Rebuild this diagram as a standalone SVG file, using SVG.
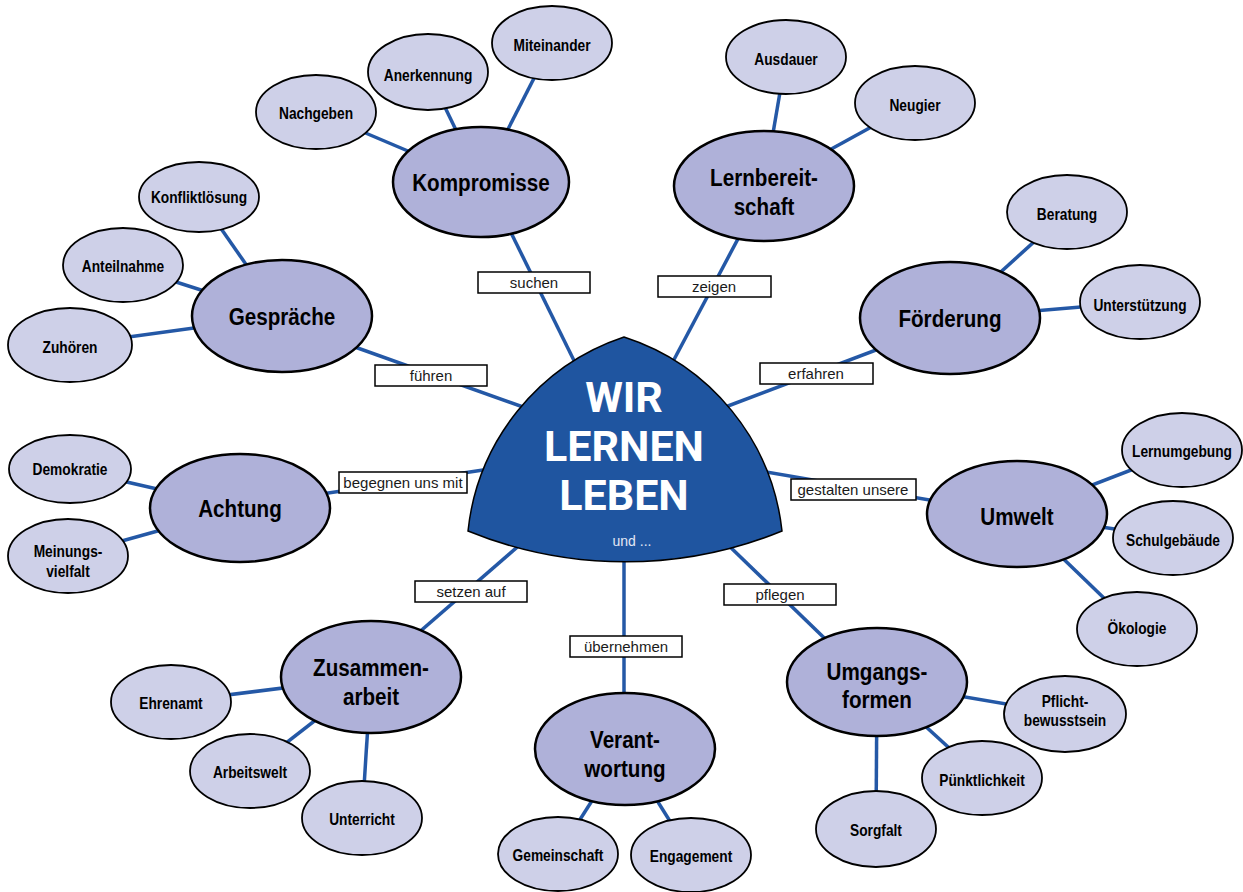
<svg xmlns="http://www.w3.org/2000/svg" width="1243" height="892" viewBox="0 0 1243 892">
<style>
.ln{stroke:#2458a6;stroke-width:3.5;fill:none}
.main ellipse{fill:#afb1d9;stroke:#000;stroke-width:2.5}
.sat ellipse{fill:#ced0e8;stroke:#000;stroke-width:1.8}
.mt,.st{font-family:"Liberation Sans",Arial,sans-serif;font-weight:bold;text-anchor:middle;fill:#000;transform-box:fill-box;transform-origin:center;transform:scaleX(0.86)}
.mt{font-size:24px}
.st{font-size:16px}
.lb rect{fill:#fff;stroke:#000;stroke-width:1.5}
.lt{font-family:"Liberation Sans",Arial,sans-serif;font-size:15px;text-anchor:middle;fill:#1a1a1a}
.ct{font-family:Roboto,"Liberation Sans",sans-serif;font-weight:bold;font-size:43px;text-anchor:middle;fill:#fff}
</style>
<g id="connectors">
<line class="ln" x1="486" y1="182" x2="590" y2="393"/>
<line class="ln" x1="766" y1="186" x2="660" y2="386"/>
<line class="ln" x1="282" y1="321" x2="540" y2="413"/>
<line class="ln" x1="950" y1="322" x2="720" y2="409"/>
<line class="ln" x1="240" y1="506" x2="490" y2="469"/>
<line class="ln" x1="1017" y1="515" x2="760" y2="471"/>
<line class="ln" x1="371" y1="674" x2="530" y2="536"/>
<line class="ln" x1="624" y1="749" x2="624" y2="540"/>
<line class="ln" x1="877" y1="689" x2="725" y2="542"/>
<line class="ln" x1="552" y1="43" x2="481" y2="182"/>
<line class="ln" x1="428" y1="72" x2="481" y2="182"/>
<line class="ln" x1="316" y1="112" x2="481" y2="182"/>
<line class="ln" x1="786" y1="57" x2="764" y2="186"/>
<line class="ln" x1="915" y1="103" x2="764" y2="186"/>
<line class="ln" x1="199" y1="197" x2="282" y2="316"/>
<line class="ln" x1="123" y1="265" x2="282" y2="316"/>
<line class="ln" x1="70" y1="345" x2="282" y2="316"/>
<line class="ln" x1="1067" y1="212" x2="950" y2="318"/>
<line class="ln" x1="1140" y1="302" x2="950" y2="318"/>
<line class="ln" x1="70" y1="469" x2="240" y2="508"/>
<line class="ln" x1="68" y1="556" x2="240" y2="508"/>
<line class="ln" x1="1183" y1="450" x2="1017" y2="514"/>
<line class="ln" x1="1173" y1="538" x2="1017" y2="514"/>
<line class="ln" x1="1137" y1="630" x2="1017" y2="514"/>
<line class="ln" x1="171" y1="702" x2="371" y2="677"/>
<line class="ln" x1="250" y1="771" x2="371" y2="677"/>
<line class="ln" x1="362" y1="818" x2="371" y2="677"/>
<line class="ln" x1="558" y1="854" x2="625" y2="749"/>
<line class="ln" x1="691" y1="855" x2="625" y2="749"/>
<line class="ln" x1="1065" y1="714" x2="877" y2="682"/>
<line class="ln" x1="982" y1="778" x2="877" y2="682"/>
<line class="ln" x1="876" y1="829" x2="877" y2="682"/>
</g>
<g id="center">
<path d="M624 337 A230 230 0 0 0 468 531 A415 415 0 0 0 782 531 A230 230 0 0 0 624 337 Z" fill="#1f55a0" stroke="#000" stroke-width="1.5"/>
<text class="ct" x="624" y="412">WIR</text>
<text class="ct" x="624" y="461">LERNEN</text>
<text class="ct" x="624" y="510">LEBEN</text>
<text x="632" y="546" font-family="Liberation Sans,sans-serif" font-size="14" fill="#e4e8f4" text-anchor="middle">und ...</text>
</g>
<g id="labels">
<g class="lb"><rect x="478" y="272" width="112" height="21"/><text class="lt" x="534" y="288">suchen</text></g>
<g class="lb"><rect x="658" y="276" width="113" height="21"/><text class="lt" x="714" y="292">zeigen</text></g>
<g class="lb"><rect x="375" y="365" width="112" height="21"/><text class="lt" x="431" y="381">führen</text></g>
<g class="lb"><rect x="760" y="363" width="113" height="21"/><text class="lt" x="816" y="379">erfahren</text></g>
<g class="lb"><rect x="339" y="472" width="128" height="21"/><text class="lt" x="403" y="488">begegnen uns mit</text></g>
<g class="lb"><rect x="791" y="479" width="125" height="21"/><text class="lt" x="853" y="495">gestalten unsere</text></g>
<g class="lb"><rect x="415" y="581" width="112" height="21"/><text class="lt" x="471" y="597">setzen auf</text></g>
<g class="lb"><rect x="570" y="636" width="112" height="21"/><text class="lt" x="626" y="652">übernehmen</text></g>
<g class="lb"><rect x="724" y="584" width="112" height="21"/><text class="lt" x="780" y="600">pflegen</text></g>
</g>
<g id="kompromisse" class="main"><ellipse cx="481" cy="182" rx="88" ry="55"/><text class="mt" x="481" y="191">Kompromisse</text></g>
<g id="lernbereitschaft" class="main"><ellipse cx="764" cy="186" rx="90" ry="55"/><text class="mt" x="764" y="186">Lernbereit-</text><text class="mt" x="764" y="215">schaft</text></g>
<g id="gespraeche" class="main"><ellipse cx="282" cy="316" rx="90" ry="56"/><text class="mt" x="282" y="325">Gespräche</text></g>
<g id="foerderung" class="main"><ellipse cx="950" cy="318" rx="90" ry="56"/><text class="mt" x="950" y="327">Förderung</text></g>
<g id="achtung" class="main"><ellipse cx="240" cy="508" rx="90" ry="54"/><text class="mt" x="240" y="517">Achtung</text></g>
<g id="umwelt" class="main"><ellipse cx="1017" cy="514" rx="90" ry="53"/><text class="mt" x="1017" y="525">Umwelt</text></g>
<g id="zusammenarbeit" class="main"><ellipse cx="371" cy="677" rx="90" ry="56"/><text class="mt" x="371" y="676">Zusammen-</text><text class="mt" x="371" y="705">arbeit</text></g>
<g id="verantwortung" class="main"><ellipse cx="625" cy="749" rx="90" ry="56"/><text class="mt" x="625" y="748">Verant-</text><text class="mt" x="625" y="777">wortung</text></g>
<g id="umgangsformen" class="main"><ellipse cx="877" cy="682" rx="90" ry="54"/><text class="mt" x="877" y="680">Umgangs-</text><text class="mt" x="877" y="708">formen</text></g>
<g id="miteinander" class="sat"><ellipse cx="552" cy="43" rx="60" ry="37"/><text class="st" x="552" y="51">Miteinander</text></g>
<g id="anerkennung" class="sat"><ellipse cx="428" cy="72" rx="60" ry="38"/><text class="st" x="428" y="81">Anerkennung</text></g>
<g id="nachgeben" class="sat"><ellipse cx="316" cy="112" rx="60" ry="37"/><text class="st" x="316" y="119">Nachgeben</text></g>
<g id="ausdauer" class="sat"><ellipse cx="786" cy="57" rx="60" ry="37"/><text class="st" x="786" y="65">Ausdauer</text></g>
<g id="neugier" class="sat"><ellipse cx="915" cy="103" rx="60" ry="37"/><text class="st" x="915" y="111">Neugier</text></g>
<g id="konfliktloesung" class="sat"><ellipse cx="199" cy="197" rx="60" ry="35"/><text class="st" x="199" y="203">Konfliktlösung</text></g>
<g id="anteilnahme" class="sat"><ellipse cx="123" cy="265" rx="60" ry="37"/><text class="st" x="123" y="272">Anteilnahme</text></g>
<g id="zuhoeren" class="sat"><ellipse cx="70" cy="345" rx="62" ry="37"/><text class="st" x="70" y="353">Zuhören</text></g>
<g id="beratung" class="sat"><ellipse cx="1067" cy="212" rx="60" ry="37"/><text class="st" x="1067" y="220">Beratung</text></g>
<g id="unterstuetzung" class="sat"><ellipse cx="1140" cy="302" rx="60" ry="37"/><text class="st" x="1140" y="311">Unterstützung</text></g>
<g id="demokratie" class="sat"><ellipse cx="70" cy="469" rx="61" ry="34"/><text class="st" x="70" y="475">Demokratie</text></g>
<g id="meinungsvielfalt" class="sat"><ellipse cx="68" cy="556" rx="60" ry="37"/><text class="st" x="68" y="557">Meinungs-</text><text class="st" x="68" y="577">vielfalt</text></g>
<g id="lernumgebung" class="sat"><ellipse cx="1182" cy="450" rx="60" ry="37"/><text class="st" x="1182" y="457">Lernumgebung</text></g>
<g id="schulgebaeude" class="sat"><ellipse cx="1173" cy="538" rx="60" ry="37"/><text class="st" x="1173" y="546">Schulgebäude</text></g>
<g id="oekologie" class="sat"><ellipse cx="1137" cy="629" rx="60" ry="37"/><text class="st" x="1137" y="634">Ökologie</text></g>
<g id="ehrenamt" class="sat"><ellipse cx="171" cy="702" rx="60" ry="37"/><text class="st" x="171" y="709">Ehrenamt</text></g>
<g id="arbeitswelt" class="sat"><ellipse cx="250" cy="771" rx="60" ry="37"/><text class="st" x="250" y="778">Arbeitswelt</text></g>
<g id="unterricht" class="sat"><ellipse cx="362" cy="818" rx="60" ry="37"/><text class="st" x="362" y="825">Unterricht</text></g>
<g id="gemeinschaft" class="sat"><ellipse cx="558" cy="854" rx="60" ry="37"/><text class="st" x="558" y="861">Gemeinschaft</text></g>
<g id="engagement" class="sat"><ellipse cx="691" cy="855" rx="60" ry="37"/><text class="st" x="691" y="862">Engagement</text></g>
<g id="pflichtbewusstsein" class="sat"><ellipse cx="1065" cy="714" rx="61" ry="38"/><text class="st" x="1065" y="707">Pflicht-</text><text class="st" x="1065" y="726">bewusstsein</text></g>
<g id="puenktlichkeit" class="sat"><ellipse cx="982" cy="778" rx="60" ry="37"/><text class="st" x="982" y="786">Pünktlichkeit</text></g>
<g id="sorgfalt" class="sat"><ellipse cx="876" cy="829" rx="60" ry="38"/><text class="st" x="876" y="836">Sorgfalt</text></g>
</svg>
